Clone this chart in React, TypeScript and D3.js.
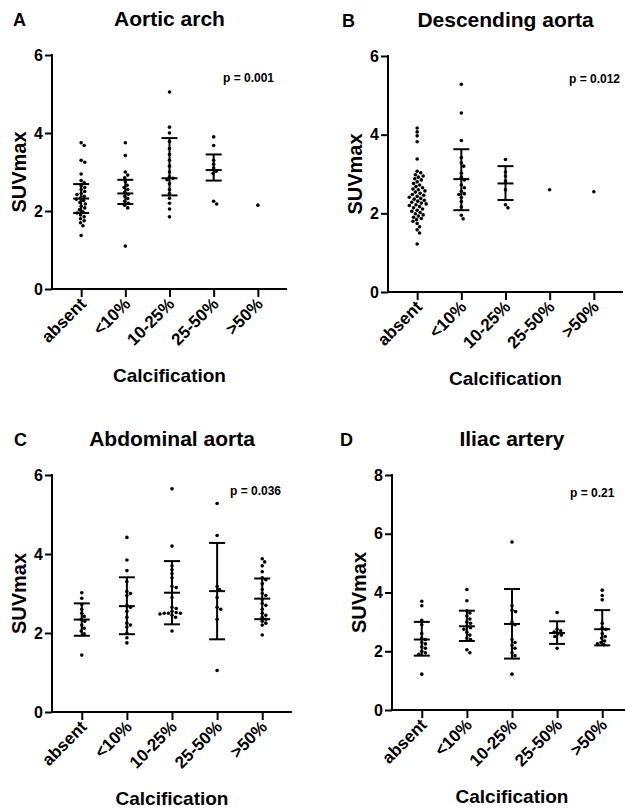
import React, { useEffect, useRef } from "react";
import * as d3 from "d3";

// categories of calcification
const categories = ["absent", "<10%", "10-25%", "25-50%", ">50%"];

const titles = ["Aortic arch", "Descending aorta", "Abdominal aorta", "Iliac artery"];
const letters = ["A", "B", "C", "D"];
const pLabels = ["p = 0.001", "p = 0.012", "p = 0.036", "p = 0.21"];
const yMaxes = [6, 6, 6, 8];
const yTicks = [[0, 2, 4, 6], [0, 2, 4, 6], [0, 2, 4, 6], [0, 2, 4, 6, 8]];

// SUVmax values per category
const archPoints = [
  [3.75, 3.68, 3.3, 3.25, 2.95, 2.78, 2.72, 2.65, 2.6, 2.55, 2.5, 2.45, 2.42, 2.38, 2.33, 2.3, 2.27, 2.22, 2.18, 2.12, 2.08, 2.03, 1.98, 1.95, 1.9, 1.85, 1.8, 1.75, 1.7, 1.62, 1.37],
  [3.75, 3.42, 3.0, 2.92, 2.85, 2.75, 2.66, 2.6, 2.55, 2.48, 2.43, 2.38, 2.32, 2.25, 2.2, 2.15, 2.08, 1.1],
  [5.05, 4.15, 4.0, 3.78, 3.6, 3.45, 3.3, 3.15, 3.0, 2.88, 2.84, 2.8, 2.7, 2.55, 2.45, 2.33, 2.2, 2.05, 1.85],
  [3.9, 3.68, 3.3, 3.2, 3.1, 3.02, 2.96, 2.25, 2.18],
  [2.15],
];
const archBars = [[1.95, 2.32, 2.69], [2.18, 2.45, 2.8], [2.4, 2.84, 3.87], [2.78, 3.05, 3.45], null];

const descPoints = [
  [4.17, 4.07, 3.97, 3.82, 3.38, 3.07, 3.03, 2.98, 2.95, 2.92, 2.88, 2.85, 2.8, 2.76, 2.72, 2.68, 2.65, 2.62, 2.6, 2.57, 2.54, 2.51, 2.48, 2.46, 2.43, 2.41, 2.38, 2.36, 2.33, 2.31, 2.28, 2.26, 2.24, 2.22, 2.2, 2.17, 2.14, 2.11, 2.08, 2.05, 2.02, 1.99, 1.96, 1.93, 1.9, 1.87, 1.84, 1.8, 1.74, 1.66, 1.58, 1.5, 1.22],
  [5.28, 4.55, 3.85, 3.42, 3.28, 3.2, 3.02, 2.92, 2.85, 2.72, 2.65, 2.56, 2.5, 2.48, 2.4, 2.3, 2.16, 1.95, 1.86],
  [3.37, 3.05, 2.95, 2.82, 2.6, 2.22, 2.14],
  [2.6],
  [2.55],
];
const descBars = [null, [2.08, 2.87, 3.63], [2.34, 2.76, 3.2], null, null];

const abdPoints = [
  [3.02, 2.88, 2.72, 2.6, 2.5, 2.42, 2.35, 2.3, 2.2, 2.12, 2.05, 1.98, 1.44],
  [4.42, 3.85, 3.58, 3.3, 3.05, 3.0, 2.95, 2.7, 2.65, 2.55, 2.4, 2.25, 2.2, 2.15, 2.0, 1.88, 1.75],
  [5.65, 4.2, 3.7, 3.6, 3.5, 3.4, 3.18, 3.15, 2.9, 2.65, 2.62, 2.55, 2.52, 2.5, 2.5, 2.5, 2.48, 2.45, 2.4, 2.05],
  [5.28, 4.47, 3.18, 3.1, 2.9, 2.65, 2.6, 2.35, 1.05],
  [3.88, 3.8, 3.7, 3.55, 3.4, 3.35, 3.25, 3.1, 3.0, 2.95, 2.85, 2.75, 2.7, 2.6, 2.5, 2.45, 2.4, 2.35, 2.3, 2.25, 2.2, 1.95],
];
const abdBars = [[1.93, 2.34, 2.75], [1.97, 2.68, 3.41], [2.22, 3.02, 3.82], [1.84, 3.06, 4.28], [2.35, 2.87, 3.38]];

const iliacPoints = [
  [3.7, 3.55, 3.05, 2.9, 2.6, 2.45, 2.4, 2.3, 2.25, 2.15, 2.1, 2.0, 1.95, 1.9, 1.22],
  [4.1, 3.72, 3.38, 3.3, 3.2, 3.1, 3.0, 2.95, 2.85, 2.8, 2.75, 2.65, 2.55, 2.45, 2.4, 2.05, 1.95],
  [5.72, 3.55, 3.4, 3.35, 3.0, 2.9, 2.4, 2.3, 2.2, 2.1, 1.95, 1.85, 1.22],
  [3.32, 2.75, 2.7, 2.65, 2.6, 2.55, 2.5, 2.1],
  [4.08, 3.9, 3.75, 2.95, 2.8, 2.75, 2.6, 2.5, 2.45, 2.35, 2.3, 2.25, 2.22],
];
const iliacBars = [[1.85, 2.4, 3.0], [2.35, 2.85, 3.38], [1.75, 2.93, 4.12], [2.25, 2.62, 3.02], [2.2, 2.75, 3.4]];

const panelPoints = [archPoints, descPoints, abdPoints, iliacPoints];
const panelBars = [archBars, descBars, abdBars, iliacBars];

// where each panel sits on the page
const layout = [
  { x0: 52, x1: 287, yTop: 55, yBot: 289, letterX: 13, pX: 223, pY: 82 },
  { x0: 388, x1: 623, yTop: 56, yBot: 292, letterX: 342, pX: 569, pY: 83 },
  { x0: 52, x1: 292, yTop: 475, yBot: 712, letterX: 14, pX: 230, pY: 495 },
  { x0: 392, x1: 632, yTop: 475, yBot: 710, letterX: 340, pX: 570, pY: 497 },
];

const FONT = "'Liberation Sans', Arial, sans-serif";

// simple beeswarm: spread points with close y sideways
function swarm(ys: number[], d: number): number[] {
  const order = ys.map((_, i) => i).sort((a, b) => ys[a] - ys[b]);
  const placed: { x: number; y: number }[] = [];
  const xs = new Array(ys.length).fill(0);
  for (const i of order) {
    const y = ys[i];
    for (let k = 0; k < 80; k++) {
      const off = k === 0 ? 0 : (k % 2 ? 1 : -1) * Math.ceil(k / 2) * 0.6;
      const ok = placed.every((p) => (p.x - off) ** 2 + (p.y - y) ** 2 >= d * d);
      if (ok) {
        xs[i] = off;
        placed.push({ x: off, y });
        break;
      }
    }
  }
  return xs;
}

function App() {
  const ref = useRef<SVGSVGElement>(null);

  useEffect(() => {
    const svg = d3.select(ref.current);
    svg.selectAll("*").remove();

    layout.forEach((L, pi) => {
      const g = svg.append("g");
      const x = d3.scalePoint().domain(categories).range([L.x0, L.x1]).padding(0.66);
      const y = d3.scaleLinear().domain([0, yMaxes[pi]]).range([L.yBot, L.yTop]);
      const mid = (L.x0 + L.x1) / 2;

      // title + panel letter
      g.append("text").attr("x", mid).attr("y", L.yTop - 29).attr("text-anchor", "middle")
        .attr("font-family", FONT).attr("font-weight", "bold").attr("font-size", 21).text(titles[pi]);
      g.append("text").attr("x", L.letterX).attr("y", L.yTop - 29)
        .attr("font-family", FONT).attr("font-weight", "bold").attr("font-size", 18).text(letters[pi]);

      // y axis
      const ya = g.append("g").attr("transform", `translate(${L.x0},0)`)
        .call(d3.axisLeft(y).tickValues(yTicks[pi]).tickFormat(d3.format("d")).tickSize(7).tickPadding(2).tickSizeOuter(0));
      ya.select(".domain").attr("stroke-width", 2).attr("d", `M0,${L.yTop - 1}V${L.yBot}`);
      ya.selectAll(".tick line").attr("stroke-width", 2);
      ya.selectAll("text").attr("font-family", FONT).attr("font-weight", "bold").attr("font-size", 16).attr("fill", "#000");

      // x axis
      const xa = g.append("g").attr("transform", `translate(0,${L.yBot})`)
        .call(d3.axisBottom(x).tickSize(8).tickSizeOuter(0).tickFormat(() => ""));
      xa.select(".domain").attr("stroke-width", 2).attr("d", `M${L.x0},0H${L.x1}`);
      xa.selectAll(".tick line").attr("stroke-width", 2);

      categories.forEach((c) => {
        g.append("text")
          .attr("transform", `translate(${(x(c) as number) + 6},${L.yBot + 16}) rotate(-45)`)
          .attr("text-anchor", "end").attr("font-family", FONT).attr("font-weight", "bold")
          .attr("font-size", 17).text(c);
      });

      g.append("text").attr("x", mid).attr("y", L.yBot + 93).attr("text-anchor", "middle")
        .attr("font-family", FONT).attr("font-weight", "bold").attr("font-size", 19).text("Calcification");
      g.append("text").attr("transform", `translate(${L.x0 - 26},${(L.yTop + L.yBot) / 2}) rotate(-90)`)
        .attr("text-anchor", "middle").attr("font-family", FONT).attr("font-weight", "bold")
        .attr("font-size", 20).text("SUVmax");
      g.append("text").attr("x", L.pX).attr("y", L.pY).attr("font-family", FONT)
        .attr("font-weight", "bold").attr("font-size", 12).text(pLabels[pi]);

      // points
      categories.forEach((c, ci) => {
        const vals = panelPoints[pi][ci];
        const ys = vals.map((v) => y(v));
        const offs = swarm(ys, 3.8);
        const cx = x(c) as number;
        g.append("g").selectAll("circle").data(vals).join("circle")
          .attr("cx", (_, i) => cx + offs[i]).attr("cy", (v) => y(v)).attr("r", 1.8).attr("fill", "#000");

        const bar = panelBars[pi][ci];
        if (bar) {
          const [lo, md, hi] = bar;
          const eb = g.append("g").attr("stroke", "#000").attr("stroke-width", 2);
          eb.append("line").attr("x1", cx).attr("x2", cx).attr("y1", y(lo)).attr("y2", y(hi));
          [lo, md, hi].forEach((v) => {
            eb.append("line").attr("x1", cx - 8).attr("x2", cx + 8).attr("y1", y(v)).attr("y2", y(v));
          });
        }
      });
    });
  }, []);

  return (
    <svg ref={ref} width={625} height={810}
      style={{ display: "block", position: "absolute", left: 0, top: 0, background: "#fff" }} />
  );
}

export default App;
